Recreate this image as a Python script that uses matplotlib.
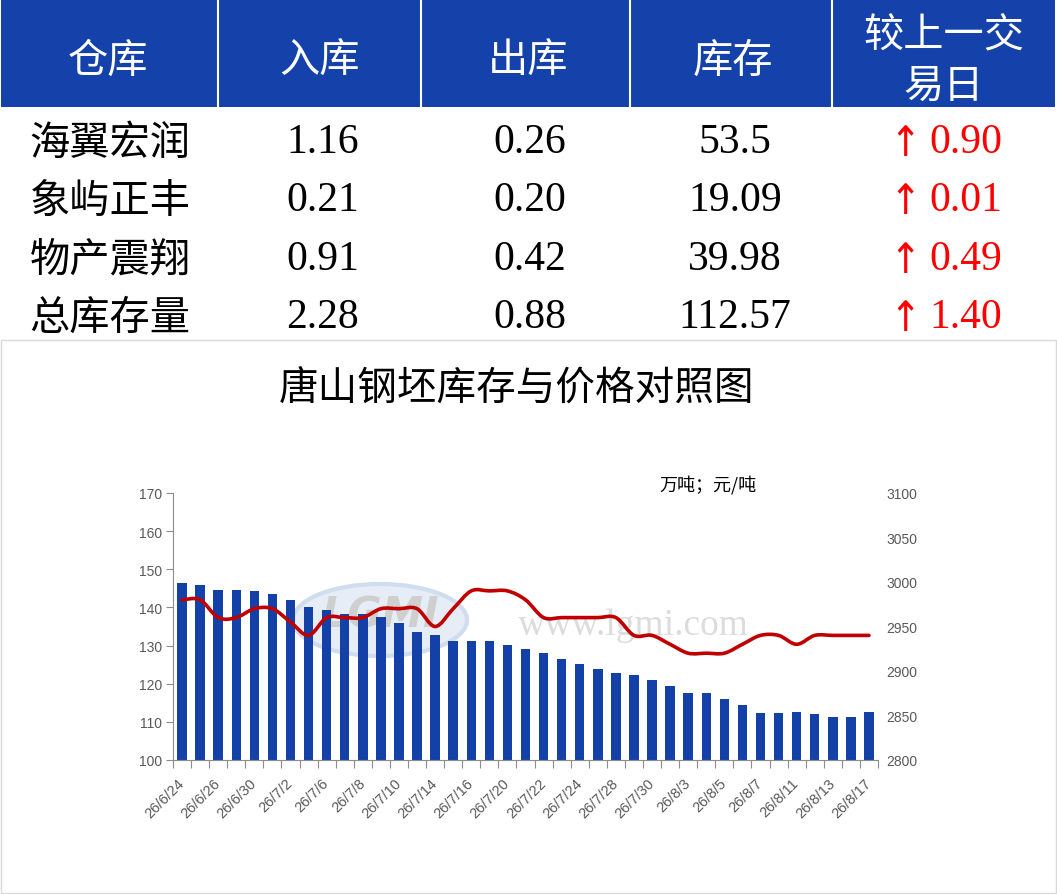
import numpy as np
import matplotlib
matplotlib.use('Agg')
import matplotlib.pyplot as plt
from matplotlib.path import Path
from matplotlib.patches import PathPatch, Rectangle, Ellipse

plt.rcParams['font.family'] = ['Liberation Serif', 'Noto Sans CJK SC', 'DejaVu Sans']

# table
header = ['仓库', '入库', '出库', '库存', '较上一交\n易日']
warehouses = ['海翼宏润', '象屿正丰', '物产震翔', '总库存量']
stock_in = ['1.16', '0.21', '0.91', '2.28']
stock_out = ['0.26', '0.20', '0.42', '0.88']
stock = ['53.5', '19.09', '39.98', '112.57']
change = ['0.90', '0.01', '0.49', '1.40']

# chart
dates = ['26/6/24', '26/6/25', '26/6/26', '26/6/29', '26/6/30', '26/7/1', '26/7/2', '26/7/3',
         '26/7/6', '26/7/7', '26/7/8', '26/7/9', '26/7/10', '26/7/13', '26/7/14', '26/7/15',
         '26/7/16', '26/7/17', '26/7/20', '26/7/21', '26/7/22', '26/7/23', '26/7/24', '26/7/27',
         '26/7/28', '26/7/29', '26/7/30', '26/7/31', '26/8/3', '26/8/4', '26/8/5', '26/8/6',
         '26/8/7', '26/8/10', '26/8/11', '26/8/12', '26/8/13', '26/8/14', '26/8/17']
inventory = [146.4, 145.8, 144.7, 144.7, 144.4, 143.4, 141.9, 140.2, 139.2, 138.4,
             138.4, 137.4, 136.0, 133.6, 132.9, 131.2, 131.2, 131.2, 130.1, 129.1,
             128.0, 126.6, 125.2, 123.8, 122.8, 122.4, 121.1, 119.3, 117.5, 117.5,
             115.9, 114.4, 112.3, 112.3, 112.7, 112.0, 111.3, 111.17, 112.57]
price = [2980, 2980, 2960, 2960, 2970, 2970, 2955, 2940, 2960, 2960,
         2960, 2970, 2970, 2970, 2950, 2970, 2990, 2990, 2990, 2980,
         2960, 2960, 2960, 2960, 2960, 2940, 2940, 2930, 2920, 2920,
         2920, 2930, 2940, 2940, 2930, 2940, 2940, 2940, 2940]

BLUE = '#1442AA'
W, H = 1057, 895
CJK = ['Noto Sans CJK SC', 'DejaVu Sans']

fig = plt.figure(figsize=(W / 100, H / 100), dpi=100)
bg = fig.add_axes([0, 0, 1, 1])
bg.set_xlim(0, W)
bg.set_ylim(H, 0)
bg.axis('off')

# header band
bg.add_patch(Rectangle((1, 1), W - 3, 107, color=BLUE, lw=0))
bg.vlines([218, 421, 630, 832], 1, 108, color='white', lw=1.5)
col_x = [108, 320, 528, 733, 944]
for cx, h in zip(col_x, header):
    lines = h.split('\n')
    if len(lines) == 1:
        bg.text(cx, 61, h, color='white', fontsize=29, ha='center', va='center', family=CJK)
    else:
        bg.text(cx, 36, lines[0], color='white', fontsize=29, ha='center', va='center', family=CJK)
        bg.text(cx, 86, lines[1], color='white', fontsize=29, ha='center', va='center', family=CJK)

row_y = [140, 198, 257, 315]
for i, y in enumerate(row_y):
    bg.text(110, y + 3, warehouses[i], fontsize=29, ha='center', va='center', family=CJK)
    bg.text(323, y + 3, stock_in[i], fontsize=30, ha='center', va='center')
    bg.text(530, y + 3, stock_out[i], fontsize=30, ha='center', va='center')
    bg.text(735, y + 3, stock[i], fontsize=30, ha='center', va='center')
    bg.text(905, y + 4, '↑', fontsize=30, ha='center', va='center', color='#FF0000',
            family=['DejaVu Sans'], stretch='condensed')
    bg.text(966, y + 3, change[i], fontsize=30, ha='center', va='center', color='#FF0000')

# chart frame and title
bg.add_patch(Rectangle((1, 341), W - 2, 553, fill=False, edgecolor='#d9d9d9', lw=1))
bg.text(517, 389, '唐山钢坯库存与价格对照图', fontsize=28.5, ha='center', va='center', family=CJK)
bg.text(708, 485, '万吨；元/吨', fontsize=13, ha='center', va='center', family=CJK)

# watermark
bg.add_patch(Ellipse((380, 621), 174, 72, facecolor='#e6edf6', edgecolor='#d0ddef', lw=3))
bg.text(380, 616, 'LGMI', fontsize=30, ha='center', va='center', color='#cfcfcf',
        weight='bold', style='italic', family=['DejaVu Sans'])
bg.text(633, 626, 'www.lgmi.com', fontsize=27, ha='center', va='center', color='#dcdcdc')

# chart axes
ax = fig.add_axes([173 / W, 1 - 761 / H, (878 - 173) / W, (761 - 494) / H])
ax.patch.set_alpha(0)
x = np.arange(len(dates))
ax.bar(x, inventory, width=0.52, color='#1341A8', zorder=2)
ax.set_xlim(-0.5, len(dates) - 0.5)
ax.set_ylim(100, 170)
ax.set_yticks(range(100, 171, 10))
ax.set_xticks(np.arange(-0.5, len(dates), 1))
ax.set_xticklabels([])
ax.set_xticks(x[::2], minor=True)
ax.set_xticklabels(dates[::2], minor=True, rotation=45, ha='right', va='center',
                   rotation_mode='anchor', fontsize=10.5, color='#595959',
                   family=['Liberation Sans'])
ax.tick_params(axis='x', which='major', length=6, color='#8c8c8c', direction='out')
ax.tick_params(axis='x', which='minor', length=0, pad=15)
ax.tick_params(axis='y', length=5, color='#8c8c8c', labelsize=10, labelcolor='#595959', pad=3)
for lab in ax.get_yticklabels():
    lab.set_family(['Liberation Sans'])
for s in ['top', 'right']:
    ax.spines[s].set_visible(False)
for s in ['left', 'bottom']:
    ax.spines[s].set_color('#8c8c8c')

ax2 = ax.twinx()
ax2.set_ylim(2800, 3100)
ax2.set_yticks(range(2800, 3101, 50))
ax2.tick_params(axis='y', length=0, labelsize=10, labelcolor='#595959', pad=6)
for lab in ax2.get_yticklabels():
    lab.set_family(['Liberation Sans'])
for s in ax2.spines.values():
    s.set_visible(False)

# smoothed price line (Excel-like Bezier through the points)
verts = [(x[0], price[0])]
codes = [Path.MOVETO]
n = len(price)
for i in range(n - 1):
    a = max(i - 1, 0)
    d = min(i + 2, n - 1)
    c1 = (x[i] + (x[i + 1] - x[a]) / 6, price[i] + (price[i + 1] - price[a]) / 6)
    c2 = (x[i + 1] - (x[d] - x[i]) / 6, price[i + 1] - (price[d] - price[i]) / 6)
    verts += [c1, c2, (x[i + 1], price[i + 1])]
    codes += [Path.CURVE4] * 3
ax2.add_patch(PathPatch(Path(verts, codes), fill=False, edgecolor='#C00000', lw=2.6,
                        capstyle='round', joinstyle='round', zorder=3))

fig.savefig('out.png', dpi=100)
